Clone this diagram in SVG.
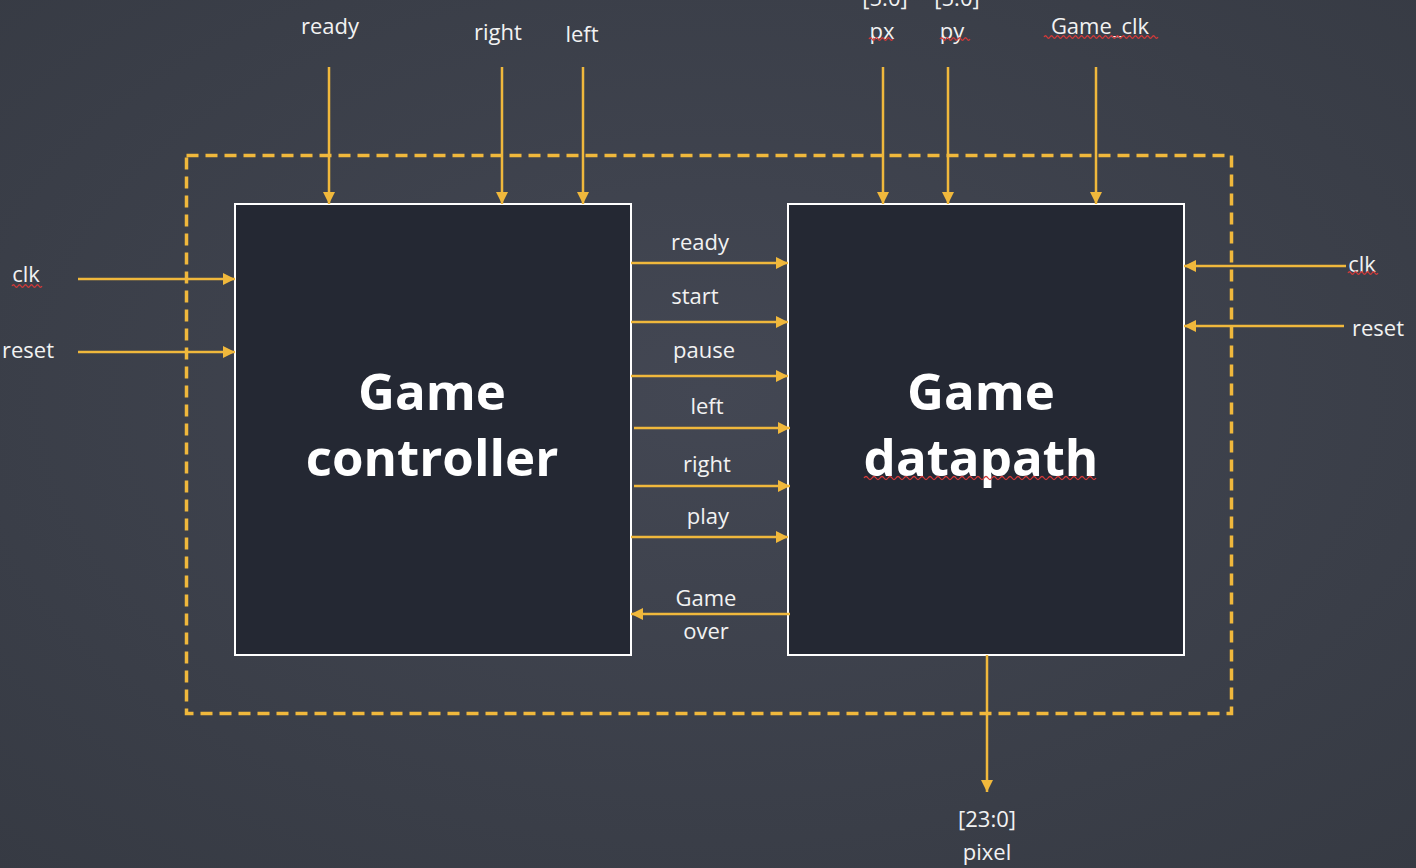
<svg xmlns="http://www.w3.org/2000/svg" width="1416" height="868" viewBox="0 0 1416 868">
<defs>
<radialGradient id="bg" cx="50%" cy="45%" r="75%">
<stop offset="0" stop-color="#434753"/>
<stop offset="1" stop-color="#363a43"/>
</radialGradient>
<marker id="ah" viewBox="0 0 10 10" refX="10" refY="5" markerWidth="12" markerHeight="12" markerUnits="userSpaceOnUse" orient="auto">
<path d="M0,0 L10,5 L0,10 Z" fill="#f0b83c"/>
</marker>
<style>
.lbl{font-family:"Open Sans","Noto Sans","DejaVu Sans",sans-serif;font-size:22px;fill:#f2f2f2;text-anchor:middle}
.ttl{font-family:"Open Sans","Noto Sans","DejaVu Sans",sans-serif;font-size:51px;font-weight:bold;fill:#ffffff;text-anchor:middle}
.box{fill:#242833;stroke:#ffffff;stroke-width:2}
.w{stroke:#f0b83c;stroke-width:2.5;fill:none;marker-end:url(#ah)}
.sq{stroke:#d23a3a;stroke-width:1.3;fill:none}
</style>
</defs>
<rect width="1416" height="868" fill="url(#bg)"/>
<rect id="boundary" x="186.5" y="155.5" width="1045" height="558" fill="none" stroke="#f0b83c" stroke-width="3.5" stroke-dasharray="12,7"/>
<g id="controller">
<rect class="box" x="235" y="204" width="396" height="451"/>
<text class="ttl" x="432" y="410">Game</text>
<text class="ttl" x="432" y="476">controller</text>
</g>
<g id="datapath">
<rect class="box" x="788" y="204" width="396" height="451"/>
<text class="ttl" x="981" y="410">Game</text>
<text class="ttl" x="981" y="476">datapath</text>
<path class="sq" d="M864,478 q2,-3 4,0 t4,0 t4,0 t4,0 t4,0 t4,0 t4,0 t4,0 t4,0 t4,0 t4,0 t4,0 t4,0 t4,0 t4,0 t4,0 t4,0 t4,0 t4,0 t4,0 t4,0 t4,0 t4,0 t4,0 t4,0 t4,0 t4,0 t4,0 t4,0 t4,0 t4,0 t4,0 t4,0 t4,0 t4,0 t4,0 t4,0 t4,0 t4,0 t4,0 t4,0 t4,0 t4,0 t4,0 t4,0 t4,0 t4,0 t4,0 t4,0 t4,0 t4,0 t4,0 t4,0 t4,0 t4,0 t4,0 t4,0 t4,0"/>
</g>
<g id="connectors">
<line class="w" x1="329" y1="67" x2="329" y2="204"/>
<line class="w" x1="502" y1="67" x2="502" y2="204"/>
<line class="w" x1="583" y1="67" x2="583" y2="204"/>
<line class="w" x1="883" y1="67" x2="883" y2="204"/>
<line class="w" x1="948" y1="67" x2="948" y2="204"/>
<line class="w" x1="1096" y1="67" x2="1096" y2="204"/>
<line class="w" x1="78" y1="279" x2="235" y2="279"/>
<line class="w" x1="78" y1="352" x2="235" y2="352"/>
<line class="w" x1="1346" y1="266" x2="1184" y2="266"/>
<line class="w" x1="1344" y1="326" x2="1184" y2="326"/>
<line class="w" x1="631" y1="263" x2="788" y2="263"/>
<line class="w" x1="631" y1="322" x2="788" y2="322"/>
<line class="w" x1="631" y1="376" x2="788" y2="376"/>
<line class="w" x1="634" y1="428" x2="790" y2="428"/>
<line class="w" x1="634" y1="486" x2="790" y2="486"/>
<line class="w" x1="631" y1="537" x2="788" y2="537"/>
<line class="w" x1="790" y1="614" x2="631" y2="614"/>
<line class="w" x1="987" y1="655" x2="987" y2="792"/>
</g>
<g id="labels">
<text class="lbl" x="330" y="34">ready</text>
<text class="lbl" x="498" y="40">right</text>
<text class="lbl" x="582" y="42">left</text>
<text class="lbl" x="885" y="6">[5:0]</text>
<text class="lbl" x="882" y="39">px</text>
<text class="lbl" x="957" y="6">[5:0]</text>
<text class="lbl" x="952" y="39">py</text>
<text class="lbl" x="1100" y="34">Game_clk</text>
<text class="lbl" x="26" y="282">clk</text>
<text class="lbl" x="28" y="358">reset</text>
<text class="lbl" x="1362" y="272">clk</text>
<text class="lbl" x="1378" y="336">reset</text>
<text class="lbl" x="700" y="250">ready</text>
<text class="lbl" x="695" y="304">start</text>
<text class="lbl" x="704" y="358">pause</text>
<text class="lbl" x="707" y="414">left</text>
<text class="lbl" x="707" y="472">right</text>
<text class="lbl" x="708" y="524">play</text>
<text class="lbl" x="706" y="606">Game</text>
<text class="lbl" x="706" y="639">over</text>
<text class="lbl" x="987" y="827">[23:0]</text>
<text class="lbl" x="987" y="860">pixel</text>
<path class="sq" d="M12,286 q1.5,-2.5 3,0 t3,0 t3,0 t3,0 t3,0 t3,0 t3,0 t3,0 t3,0 t3,0"/>
<path class="sq" d="M1348,273 q1.5,-2.5 3,0 t3,0 t3,0 t3,0 t3,0 t3,0 t3,0 t3,0 t3,0 t3,0"/>
<path class="sq" d="M869,39 q1.5,-2.5 3,0 t3,0 t3,0 t3,0 t3,0 t3,0 t3,0 t3,0"/>
<path class="sq" d="M940,39 q1.5,-2.5 3,0 t3,0 t3,0 t3,0 t3,0 t3,0 t3,0 t3,0 t3,0 t3,0"/>
<path class="sq" d="M1044,37 q1.5,-2.5 3,0 t3,0 t3,0 t3,0 t3,0 t3,0 t3,0 t3,0 t3,0 t3,0 t3,0 t3,0 t3,0 t3,0 t3,0 t3,0 t3,0 t3,0 t3,0 t3,0 t3,0 t3,0 t3,0 t3,0 t3,0 t3,0 t3,0 t3,0 t3,0 t3,0 t3,0 t3,0 t3,0 t3,0 t3,0 t3,0 t3,0 t3,0"/>
</g>
</svg>
